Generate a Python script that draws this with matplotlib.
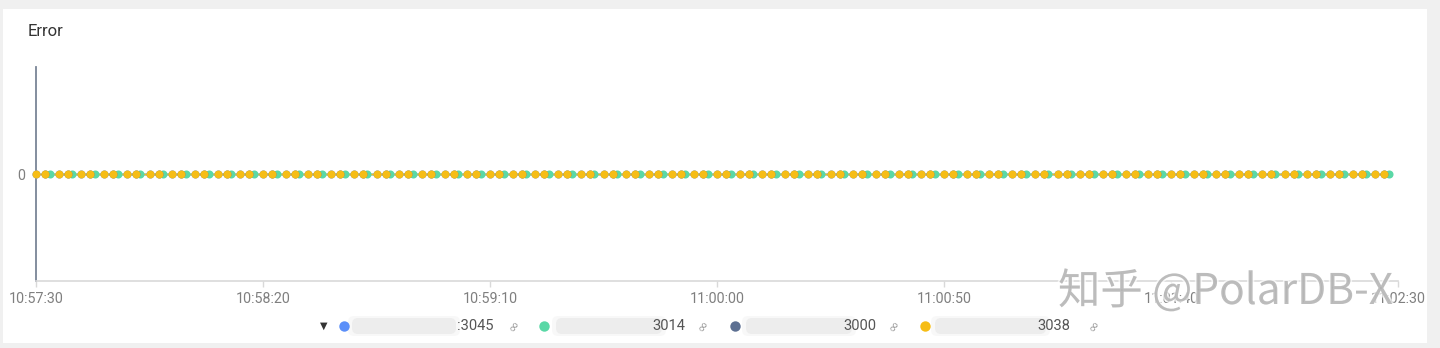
import matplotlib
matplotlib.use("Agg")
import matplotlib.pyplot as plt
import matplotlib.patheffects as pe
from matplotlib.patches import Rectangle, FancyBboxPatch

# ---------------- data ----------------
title = "Error"
series_names = [":3045", "3014", "3000", "3038"]
series_colors = ["#5B8FF9", "#5AD8A6", "#5D7092", "#F6BD16"]
# sample offsets (seconds) within each 5-second reporting period
series_offsets = [[0], [3], [2], [0, 2]]
period_starts = list(range(0, 300, 5))          # seconds after 10:57:30
error_value = 0                                   # every sample reads 0
tick_seconds = [0, 50, 100, 150, 200, 250, 300]
tick_labels = ["10:57:30", "10:58:20", "10:59:10", "11:00:00",
               "11:00:50", "11:01:40", "11:02:30"]

W, H = 1440, 348
fig = plt.figure(figsize=(W / 100, H / 100), dpi=100)
fig.patch.set_facecolor("#f0f0f0")
fig.patches.append(Rectangle((3 / W, 1 - 343 / H), (1427 - 3) / W, (343 - 9) / H,
                             transform=fig.transFigure, facecolor="white",
                             edgecolor="none", zorder=-10))

ax = fig.add_axes([36 / W, 1 - 281 / H, (1398 - 36) / W, (281 - 67) / H], zorder=2)
ax.set_facecolor("none")
ax.set_xlim(tick_seconds[0], tick_seconds[-1])
ax.set_ylim(-1, 1)

# lines first, then markers (markers on top)
for offs, col in zip(series_offsets, series_colors):
    xs = sorted(p + o for p in period_starts for o in offs)
    ys = [error_value] * len(xs)
    ax.plot(xs, ys, color=col, lw=1, zorder=2, solid_capstyle="butt")
for offs, col in zip(series_offsets, series_colors):
    xs = sorted(p + o for p in period_starts for o in offs)
    ys = [error_value] * len(xs)
    ax.plot(xs, ys, ls="none", marker="o", ms=5.8, mew=0, color=col,
            zorder=3, clip_on=False)

ax.set_xticks(tick_seconds)
ax.set_xticklabels(tick_labels)
ax.set_yticks([0])
ax.set_yticklabels(["0"])
for s in ["top", "right"]:
    ax.spines[s].set_visible(False)
ax.spines["left"].set_color("#7a8596")
ax.spines["left"].set_linewidth(1.3)
ax.spines["bottom"].set_color("#d9d9d9")
ax.spines["bottom"].set_linewidth(1.2)
ax.tick_params(axis="x", length=4, width=1, color="#d9d9d9",
               labelsize=10.3, labelcolor="#7f7f7f", pad=4)
ax.tick_params(axis="y", length=0, labelsize=10.3, labelcolor="#7f7f7f", pad=8)
for lab in ax.get_xticklabels() + ax.get_yticklabels():
    lab.set_fontfamily("Roboto")

# ---------------- overlay (pixel coords) ----------------
ov = fig.add_axes([0, 0, 1, 1], zorder=5)
ov.set_xlim(0, W)
ov.set_ylim(H, 0)
ov.axis("off")
ov.patch.set_alpha(0)

ov.text(28, 31, title, fontsize=12, color="#333333", family="Roboto",
        ha="left", va="center")

# watermark
ov.text(1058, 292, "知乎 @PolarDB-X", fontsize=30.5,
        family=["Noto Sans CJK SC", "DejaVu Sans"], color="#a8a8a8", alpha=0.7,
        ha="left", va="center", zorder=1,
        path_effects=[pe.withStroke(linewidth=2.5, foreground="white")])

# legend
ly = 326
ov.text(324, ly, "▼", fontsize=7, color="#333333", ha="center", va="center",
        family="DejaVu Sans")
dot_x = [344, 544, 735, 925]
blur = [(352, 456), (556, 662), (746, 852), (935, 1046)]
text_right = [494, 685, 876, 1070]
link_x = [514, 703, 894, 1094]
for i, (name, col) in enumerate(zip(series_names, series_colors)):
    b0, b1 = blur[i]
    for grow, a in [(4, 0.35), (0, 0.9)]:
        ov.add_patch(FancyBboxPatch((b0 - grow, ly - 8 - grow / 2), b1 - b0 + 2 * grow,
                                    16 + grow, boxstyle="round,pad=0,rounding_size=6",
                                    facecolor="#ececec", edgecolor="none", alpha=a,
                                    zorder=2))
    ov.plot([dot_x[i]], [ly], marker="o", ms=7.5, mew=0, color=col, zorder=3)
    ov.text(text_right[i], ly, name, fontsize=10.5, color="#555555", family="Roboto",
            ha="right", va="center", zorder=3)
    ov.text(link_x[i], ly, "∞", fontsize=10, color="#9a9a9a", rotation=55,
            ha="center", va="center", family="DejaVu Sans", zorder=3)

fig.savefig("out.png", dpi=100)
